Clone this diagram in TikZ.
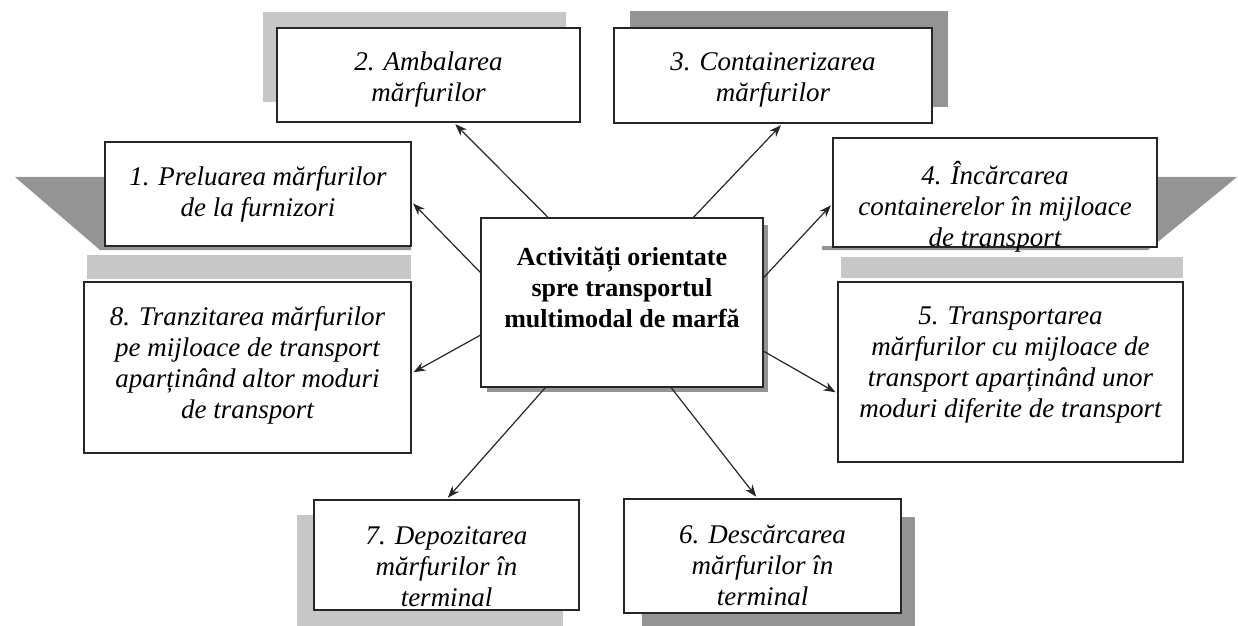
\documentclass[tikz,border=0pt]{standalone}
\usepackage{fontspec}
\setmainfont{Liberation Serif}
\usetikzlibrary{arrows.meta}
\tikzset{
	box/.style={draw=black!85, line width=0.75pt, fill=white, inner sep=0pt},
	boxtext/.style={align=center, inner sep=0pt,
			font=\fontsize{13.5}{15.5}\selectfont\itshape},
	lightsh/.style={fill=black!22, draw=none},
	darksh/.style={fill=black!42, draw=none},
	arrow/.style={->, draw=black!85, line width=0.6pt, shorten >=1pt}
}

\begin{document}
\begin{tikzpicture}[x=0.5pt,y=-0.5pt,>={Stealth[length=6pt,width=4.5pt]}]
	\useasboundingbox (0,0) rectangle (1238,626);

	% shadows
	\fill[darksh] (15,177) -- (200,177) -- (200,246) -- (411,246) -- (411,250) -- (100,250) -- cycle;
	\fill[lightsh] (263,12) rectangle (566,102);
	\fill[darksh] (630,11) rectangle (948,107);
	\fill[darksh] (822,246) -- (1000,246) -- (1000,177) -- (1237,177) -- (1148,250) -- (822,250) -- cycle;
	\fill[lightsh] (87,255) rectangle (411,279);
	\fill[lightsh] (841,257) rectangle (1183,278);
	\fill[darksh] (487,225) rectangle (768,392);
	\fill[lightsh] (297,515) rectangle (563,626);
	\fill[darksh] (642,517) rectangle (915,626);

	% centre
	\node[box, minimum width=141pt, minimum height=84.5pt] (activ) at (622,302.5) {};
	\node[boxtext, font=\fontsize{13}{15.5}\selectfont\bfseries] (activ-t) at ([yshift=7.5pt]activ.center)
		{Activități orientate\\spre transportul\\multimodal de marfă};

	% 1. - 4.
	\node[box, minimum width=153pt, minimum height=52pt] (prel) at (258,194) {};
	\node[boxtext] (prel-t) at (prel.center) {1. Preluarea mărfurilor\\de la furnizori};

	\node[box, minimum width=151.5pt, minimum height=47pt] (ambal) at (428.5,75) {};
	\node[boxtext] (ambal-t) at ([yshift=-2.5pt]ambal.center) {2. Ambalarea\\mărfurilor};

	\node[box, minimum width=159pt, minimum height=47.5pt] (cont) at (773,75.5) {};
	\node[boxtext] (cont-t) at ([yshift=-2pt]cont.center) {3. Containerizarea\\mărfurilor};

	\node[box, minimum width=162pt, minimum height=54.5pt] (incarc) at (995,192.5) {};
	\node[boxtext] (incarc-t) at ([yshift=-7pt]incarc.center)
		{4. Încărcarea\\containerelor în mijloace\\de transport};

	% 5. - 8.
	\node[box, minimum width=172.5pt, minimum height=90pt] (transp) at (1010.5,372) {};
	\node[boxtext] (transp-t) at ([yshift=3.5pt]transp.center)
		{5. Transportarea\\mărfurilor cu mijloace de\\transport aparținând unor\\moduri diferite de transport};

	\node[box, minimum width=138.5pt, minimum height=57pt] (desc) at (762.5,556) {};
	\node[boxtext] (desc-t) at ([yshift=-4.5pt]desc.center) {6. Descărcarea\\mărfurilor în\\terminal};

	\node[box, minimum width=132.5pt, minimum height=55pt] (depoz) at (446.5,555) {};
	\node[boxtext] (depoz-t) at ([yshift=-6pt]depoz.center) {7. Depozitarea\\mărfurilor în\\terminal};

	\node[box, minimum width=163.5pt, minimum height=85.5pt] (tranz) at (247.5,367.5) {};
	\node[boxtext] (tranz-t) at ([yshift=1pt]tranz.center)
		{8. Tranzitarea mărfurilor\\pe mijloace de transport\\aparținând altor moduri\\de transport};

	% arrows
	\draw[arrow] (activ.168) -- (prel.-3);
	\draw[arrow] (activ.131) -- (ambal.-62);
	\draw[arrow] (activ.50) -- (cont.-79);
	\draw[arrow] (activ.10) -- (incarc.184);
	\draw[arrow] (activ.-19) -- (transp.187);
	\draw[arrow] (activ.-60) -- (desc.95);
	\draw[arrow] (activ.-132) -- (depoz.90);
	\draw[arrow] (activ.-167) -- (tranz.-2);
\end{tikzpicture}
\end{document}
